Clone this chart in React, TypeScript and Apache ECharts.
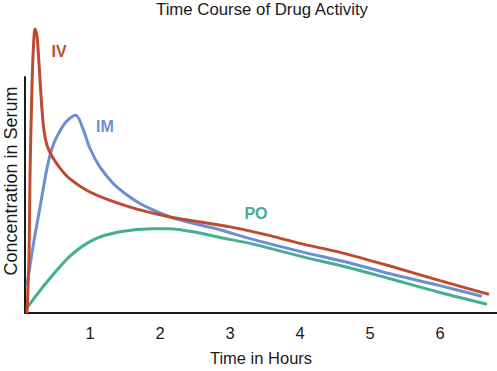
import React, { useEffect, useRef } from "react";
import * as echarts from "echarts";

// Time in hours, concentration in arbitrary units (0-100 = height of y axis)
const ivData: [number, number][] = [
  [0.1, 0], [0.129, 24.1], [0.143, 58.5], [0.171, 95.9], [0.193, 113.3],
  [0.214, 120.3], [0.243, 117.4], [0.264, 109.1], [0.286, 98.8], [0.314, 86.3],
  [0.343, 77.2], [0.386, 71.0], [0.457, 66.4], [0.571, 61.4], [0.714, 56.8],
  [0.957, 51.9], [1.286, 47.7], [1.671, 44.0], [2.143, 40.7], [2.571, 38.6],
  [3.0, 36.5], [3.571, 32.8], [4.0, 29.5], [4.571, 25.7], [5.286, 19.9],
  [6.0, 13.7], [6.7, 7.9],
];

const imData: [number, number][] = [
  [0.1, 11.6], [0.186, 28.2], [0.286, 44.8], [0.386, 61.4], [0.471, 71.0],
  [0.614, 79.3], [0.714, 82.6], [0.8, 83.8], [0.9, 78.0],
  [1.0, 69.7], [1.143, 61.8], [1.329, 55.0], [1.529, 50.0], [1.714, 46.4],
  [1.929, 43.3], [2.143, 40.7], [2.571, 37.3], [2.857, 35.3], [3.286, 31.5], [4.0, 26.1],
  [4.714, 21.2], [5.286, 16.6], [6.0, 11.6], [6.6, 7.1],
];

const poData: [number, number][] = [
  [0.1, 2.2], [0.381, 13.0], [0.714, 24.1], [1.047, 31.0],
  [1.429, 34.4], [1.9, 35.7], [2.143, 35.7], [2.471, 34.4], [2.857, 32.0],
  [3.286, 29.5], [4.0, 24.1], [4.714, 19.1], [5.286, 14.5], [6.0, 8.7],
  [6.671, 3.7],
];

const hourTicks = [1, 2, 3, 4, 5, 6];
const seriesNames = ["IV", "IM", "PO"];

const RED = "#BF4A30";
const BLUE = "#6B8FD3";
const GREEN = "#47AD93";
const FONT = "'Liberation Sans', Arial, Helvetica, sans-serif";

export default function App() {
  const ref = useRef<HTMLDivElement>(null);
  useEffect(() => {
    if (!ref.current) return;
    const chart = echarts.init(ref.current, null, { renderer: "svg" });
    chart.setOption({
      animation: false,
      backgroundColor: "#ffffff",
      title: {
        text: "Time Course of Drug Activity",
        left: 156,
        top: 1,
        padding: 0,
        textStyle: { fontFamily: FONT, fontSize: 16.8, fontWeight: "normal", color: "#1a1a1a" },
      },
      grid: { left: 25, right: 0, top: 77, bottom: 53, containLabel: false },
      xAxis: {
        type: "value",
        min: 5 / 70,
        max: 477 / 70,
        name: "Time in Hours",
        nameLocation: "middle",
        nameGap: 36,
        nameTextStyle: { fontFamily: FONT, fontSize: 16.5, color: "#1a1a1a" },
        axisLine: { show: true, lineStyle: { color: "#1a1a1a", width: 2 } },
        axisTick: { show: false },
        splitLine: { show: false },
        axisLabel: {
          customValues: hourTicks,
          fontFamily: FONT,
          fontSize: 16.5,
          color: "#1a1a1a",
          margin: 11,
        },
      },
      yAxis: {
        type: "value",
        min: 0,
        max: 100,
        axisLine: { show: true, lineStyle: { color: "#1a1a1a", width: 2 } },
        axisTick: { show: false },
        axisLabel: { show: false },
        splitLine: { show: false },
      },
      graphic: [
        {
          type: "text",
          x: 11,
          y: 181,
          rotation: Math.PI / 2,
          style: {
            text: "Concentration in Serum",
            fontFamily: FONT,
            fontSize: 18,
            fill: "#1a1a1a",
            textAlign: "center",
            textVerticalAlign: "middle",
          },
        },
        {
          type: "text",
          x: 59,
          y: 51,
          style: { text: seriesNames[0], fontFamily: FONT, fontSize: 16, fontWeight: "bold", fill: RED, textAlign: "center", textVerticalAlign: "middle" },
        },
        {
          type: "text",
          x: 105,
          y: 126,
          style: { text: seriesNames[1], fontFamily: FONT, fontSize: 16, fontWeight: "bold", fill: BLUE, textAlign: "center", textVerticalAlign: "middle" },
        },
        {
          type: "text",
          x: 256,
          y: 213,
          style: { text: seriesNames[2], fontFamily: FONT, fontSize: 16, fontWeight: "bold", fill: GREEN, textAlign: "center", textVerticalAlign: "middle" },
        },
      ],
      series: [
        {
          name: seriesNames[2],
          type: "line",
          data: poData,
          smooth: 0.3,
          showSymbol: false,
          clip: false,
          lineStyle: { color: GREEN, width: 3 },
        },
        {
          name: seriesNames[1],
          type: "line",
          data: imData,
          smooth: 0.3,
          showSymbol: false,
          clip: false,
          lineStyle: { color: BLUE, width: 3 },
        },
        {
          name: seriesNames[0],
          type: "line",
          data: ivData,
          smooth: 0.3,
          showSymbol: false,
          clip: false,
          lineStyle: { color: RED, width: 3 },
        },
      ],
    });
    return () => chart.dispose();
  }, []);
  return <div ref={ref} style={{ width: 497, height: 371, position: "absolute", left: 0, top: 0 }} />;
}
